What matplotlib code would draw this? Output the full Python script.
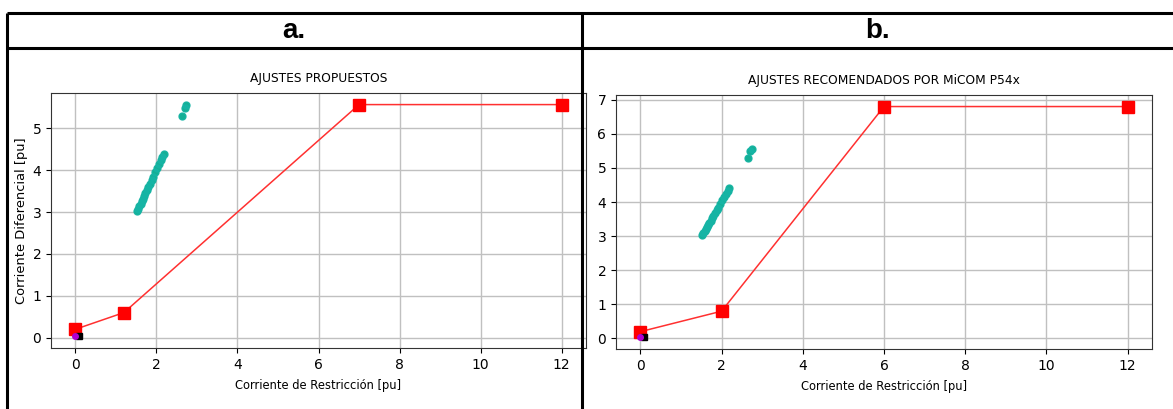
import matplotlib
matplotlib.use("Agg")
import matplotlib.pyplot as plt
from matplotlib.lines import Line2D
from matplotlib import font_manager

# characteristic curves (restraint current, differential current)
curva_a_x = [0, 1.2, 7, 12]
curva_a_y = [0.2, 0.6, 5.57, 5.57]
curva_b_x = [0, 2, 6, 12]
curva_b_y = [0.2, 0.8, 6.8, 6.8]

# operating points (fault cases)
puntos_x = [1.52, 1.55, 1.58, 1.61, 1.64, 1.67, 1.70, 1.73, 1.76, 1.80, 1.84,
            1.88, 1.92, 1.97, 2.02, 2.07, 2.11, 2.15, 2.18, 2.64, 2.71, 2.74]
puntos_y = [3.03, 3.08, 3.14, 3.20, 3.26, 3.32, 3.38, 3.45, 3.52, 3.60, 3.68,
            3.76, 3.84, 3.95, 4.05, 4.15, 4.24, 4.32, 4.40, 5.29, 5.50, 5.56]

# normal load points
carga_x = [0.0]
carga_y = [0.03]
carga2_x = [0.1]
carga2_y = [0.03]

titulos = ["AJUSTES PROPUESTOS", "AJUSTES RECOMENDADOS POR MiCOM P54x"]
letras = ["a.", "b."]

# narrow font if there is one
nombres = {f.name for f in font_manager.fontManager.ttflist}
fam = ["Liberation Sans Narrow", "DejaVu Sans"] if "Liberation Sans Narrow" in nombres else ["DejaVu Sans"]

W, H = 1173, 409
fig = plt.figure(figsize=(W / 100, H / 100), dpi=100)

def px(x, y):
    return x / W, 1 - y / H

# table borders
lw_tab = 2.2
for (x0, y0, x1, y1) in [(7, 13, W, 13), (7, 48, W, 48), (7, 13, 7, H), (582, 13, 582, H)]:
    a, b = px(x0, y0)
    c, d = px(x1, y1)
    fig.add_artist(Line2D([a, c], [b, d], color="black", lw=lw_tab, solid_capstyle="butt"))

for x, t in zip([294, 878], letras):
    fig.text(*px(x, 31), t, ha="center", va="center", fontsize=20,
             fontweight="bold", family="Liberation Sans")

ax_a = fig.add_axes([51 / W, 1 - 348 / H, 535 / W, 255 / H])
ax_b = fig.add_axes([616 / W, 1 - 349 / H, 536 / W, 254 / H])

for ax, cx, cy, tit in [(ax_a, curva_a_x, curva_a_y, titulos[0]),
                        (ax_b, curva_b_x, curva_b_y, titulos[1])]:
    ax.plot(puntos_x, puntos_y, "o", color="green", ms=4, zorder=3)
    ax.plot(puntos_x, puntos_y, "o", color="#17b5a6", ms=5, alpha=0.9, zorder=4)
    ax.plot(cx, cy, "-", color="#ff3030", lw=1.1, zorder=5)
    ax.plot(cx, cy, "s", color="red", ms=8, zorder=6)
    ax.plot(carga2_x, carga2_y, "s", color="black", ms=4, zorder=6)
    ax.plot(carga_x, carga_y, "o", color="#b000d0", ms=4, zorder=7)
    ax.grid(True, color="#c0c0c0", lw=1)
    ax.set_axisbelow(True)
    ax.set_title(tit, pad=8, family=fam, fontsize=8.8)
    ax.set_xlabel("Corriente de Restricción [pu]", family=fam, fontsize=8.3, labelpad=5)
    ax.set_xticks([0, 2, 4, 6, 8, 10, 12])
    for lab in ax.get_xticklabels() + ax.get_yticklabels():
        lab.set_family(fam)
        lab.set_fontsize(10)
    for s in ax.spines.values():
        s.set_color("#333333")

ax_a.set_ylabel("Corriente Diferencial [pu]", family=fam, fontsize=9.4, labelpad=3)
ax_a.set_yticks([0, 1, 2, 3, 4, 5])
ax_b.set_yticks([0, 1, 2, 3, 4, 5, 6, 7])

fig.savefig("out.png", dpi=100)
